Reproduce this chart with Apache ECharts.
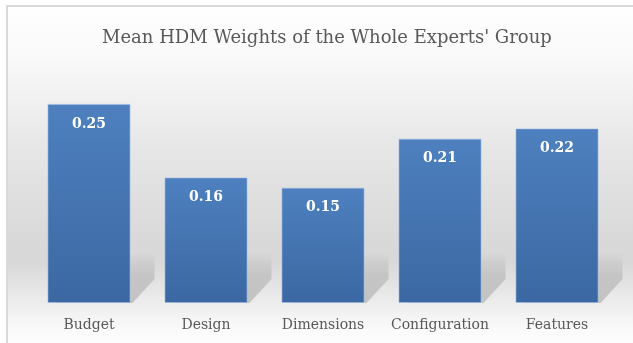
<!DOCTYPE html>
<html>
<head>
<meta charset="utf-8">
<script src="https://cdn.jsdelivr.net/npm/echarts@6/dist/echarts.min.js"></script>
<style>html,body{margin:0;padding:0;background:#fff}#c{width:633px;height:343px}</style>
</head>
<body>
<div id="c"></div>
<script>
const categories = ['Budget', 'Design', 'Dimensions', 'Configuration', 'Features'];
const weights = [0.252, 0.159, 0.146, 0.208, 0.221];
const titleText = "Mean HDM Weights of the Whole Experts' Group";

const chart = echarts.init(document.getElementById('c'), null, {renderer: 'canvas'});
const barRatio = 0.71;

chart.setOption({
  animation: false,
  backgroundColor: '#ffffff',
  graphic: [{
    type: 'rect', z: -10, silent: true,
    shape: {x: 7, y: 6, width: 900, height: 500},
    style: {
      stroke: '#d9d9d9', lineWidth: 2,
      fill: new echarts.graphic.LinearGradient(0, 0, 0, 337 / 500, [
        {offset: 0, color: '#ffffff'},
        {offset: 0.16, color: '#f9f9f9'},
        {offset: 0.43, color: '#e6e6e6'},
        {offset: 0.69, color: '#d9d9d9'},
        {offset: 0.76, color: '#d8d8d8'},
        {offset: 0.875, color: '#ececec'},
        {offset: 0.96, color: '#fafafa'},
        {offset: 1, color: '#fdfdfd'}
      ])
    }
  }],
  title: {
    text: titleText, left: 97, top: 24,
    textStyle: {fontFamily: 'DejaVu Serif', fontSize: 18, fontWeight: 'normal', color: '#595959'}
  },
  grid: {left: 30.5, right: 17.5, top: 66, bottom: 40},
  xAxis: {
    type: 'category', data: categories,
    axisLine: {show: false}, axisTick: {show: false},
    axisLabel: {interval: 0, margin: 15, fontFamily: 'DejaVu Serif', fontSize: 14, color: '#595959'}
  },
  yAxis: {type: 'value', min: 0, max: 0.3, show: false, splitLine: {show: false}},
  series: [{
    type: 'custom', z: 1, silent: true,
    data: weights.map((v, i) => [i, v]),
    renderItem: function (params, api) {
      const base = api.coord([api.value(0), 0]);
      const band = api.size([1, 0])[0];
      const xr = base[0] + band * barRatio / 2;
      const xl = base[0] - band * barRatio / 2;
      const y0 = base[1];
      return {
        type: 'polygon',
        shape: {points: [[xl + 10, y0], [xr + 2, y0], [xr + 24, y0 - 24], [xr + 24, y0 - 50], [xl + 10, y0 - 50]]},
        style: {
          fill: new echarts.graphic.LinearGradient(0, 0, 0, 1, [
            {offset: 0, color: 'rgba(0,0,0,0.0)'},
            {offset: 0.45, color: 'rgba(0,0,0,0.11)'},
            {offset: 1, color: 'rgba(0,0,0,0.17)'}
          ]),
          shadowBlur: 4, shadowColor: 'rgba(0,0,0,0.08)'
        }
      };
    }
  }, {
    type: 'bar', z: 2,
    data: weights,
    barWidth: (barRatio * 100) + '%',
    itemStyle: {
      color: new echarts.graphic.LinearGradient(0, 0, 0, 1, [
        {offset: 0, color: '#4e80bf'},
        {offset: 1, color: '#3b68a2'}
      ]),
      borderColor: 'rgba(160,190,230,0.6)', borderWidth: 1
    },
    label: {
      show: true, position: 'insideTop', distance: 13,
      formatter: p => p.value.toFixed(2),
      fontFamily: 'DejaVu Serif', fontWeight: 'bold', fontSize: 14, color: '#ffffff'
    }
  }]
});
</script>
</body>
</html>
